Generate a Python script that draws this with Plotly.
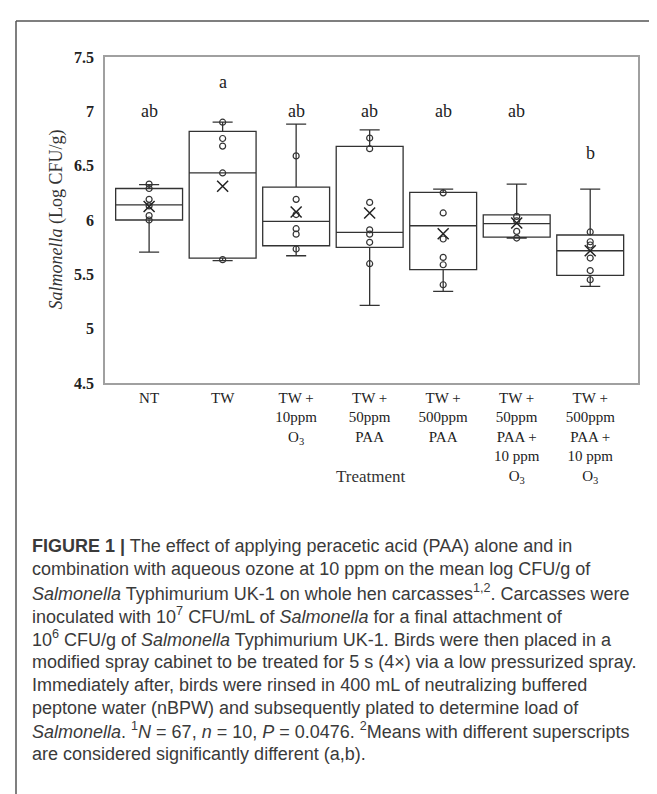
import plotly.graph_objects as go

# ---------------- data ----------------
categories = ["NT", "TW", "TW +<br>10ppm<br>O<sub>3</sub>", "TW +<br>50ppm<br>PAA",
              "TW +<br>500ppm<br>PAA", "TW +<br>50ppm<br>PAA +<br>10 ppm<br>O<sub>3</sub>",
              "TW +<br>500ppm<br>PAA +<br>10 ppm<br>O<sub>3</sub>"]
q1 = [6.00, 5.65, 5.763, 5.748, 5.543, 5.843, 5.49]
median = [6.14, 6.433, 5.987, 5.886, 5.947, 5.966, 5.717]
q3 = [6.29, 6.816, 6.303, 6.677, 6.255, 6.048, 5.862]
whisker_low = [5.705, 5.626, 5.671, 5.215, 5.344, 5.834, 5.39]
whisker_high = [6.325, 6.90, 6.883, 6.83, 6.285, 6.331, 6.285]
means = [6.125, 6.31, 6.073, 6.064, 5.873, 5.972, 5.717]
points = [
    [6.33, 6.29, 6.19, 6.13, 6.04, 6.00],
    [6.90, 6.75, 6.68, 6.433, 5.635],
    [6.59, 6.19, 6.05, 5.92, 5.87, 5.733],
    [6.754, 6.656, 6.162, 5.91, 5.87, 5.795, 5.598],
    [6.25, 6.065, 5.825, 5.656, 5.588, 5.404],
    [6.033, 5.993, 5.895, 5.834],
    [5.89, 5.80, 5.77, 5.65, 5.535, 5.45],
]
letters = ["ab", "a", "ab", "ab", "ab", "ab", "b"]
letter_y = [7.0, 7.27, 7.0, 7.0, 7.0, 7.0, 6.62]

caption_lines = [
    "<b>FIGURE 1 |</b> The effect of applying peracetic acid (PAA) alone and in",
    "combination with aqueous ozone at 10 ppm on the mean log CFU/g of",
    "<i>Salmonella</i> Typhimurium UK-1 on whole hen carcasses<sup>1,2</sup>. Carcasses were",
    "inoculated with 10<sup>7</sup> CFU/mL of <i>Salmonella</i> for a final attachment of",
    "10<sup>6</sup> CFU/g of <i>Salmonella</i> Typhimurium UK-1. Birds were then placed in a",
    "modified spray cabinet to be treated for 5 s (4×) via a low pressurized spray.",
    "Immediately after, birds were rinsed in 400 mL of neutralizing buffered",
    "peptone water (nBPW) and subsequently plated to determine load of",
    "<i>Salmonella</i>. <sup>1</sup><i>N</i> = 67, <i>n</i> = 10, <i>P</i> = 0.0476. <sup>2</sup>Means with different superscripts",
    "are considered significantly different (a,b).",
]

# ---------------- layout constants ----------------
W, H = 657, 794
L, R, T, B = 97, 27, 49, 419
PW, PH = W - L - R, H - T - B


def px_x(px):
    return (px - L) / PW


def px_y(py):
    return (H - B - py) / PH


SERIF = "Liberation Serif, Times New Roman, serif"
SANS = "Liberation Sans, Arial, sans-serif"
DARK = "#333333"

fig = go.Figure()
xs = list(range(len(categories)))

for i in xs:
    fig.add_trace(go.Box(
        x=[i], q1=[q1[i]], median=[median[i]], q3=[q3[i]],
        lowerfence=[whisker_low[i]], upperfence=[whisker_high[i]],
        width=0.91, whiskerwidth=0.3, fillcolor="white",
        line=dict(color=DARK, width=1.3), boxpoints=False, showlegend=False,
        hoverinfo="skip",
    ))
    fig.add_trace(go.Scatter(
        x=[i] * len(points[i]), y=points[i], mode="markers",
        marker=dict(symbol="circle-open", size=6, color=DARK, line=dict(width=1.2, color=DARK)),
        showlegend=False, hoverinfo="skip",
    ))
    fig.add_trace(go.Scatter(
        x=[i], y=[means[i]], mode="markers",
        marker=dict(symbol="x-thin-open", size=11, color="#222", line=dict(width=1.5, color="#222")),
        showlegend=False, hoverinfo="skip",
    ))
    fig.add_annotation(x=i, y=letter_y[i], text=letters[i], showarrow=False,
                       font=dict(family=SERIF, size=18, color="#222"))

fig.update_xaxes(
    range=[-0.6, 6.65], tickmode="array", tickvals=xs, ticktext=categories,
    tickfont=dict(family=SERIF, size=15, color="#222"),
    showline=True, mirror=True, linecolor="#a0a0a0", linewidth=1.5,
    ticks="", showgrid=False, zeroline=False,
)
fig.update_yaxes(
    range=[4.5, 7.5], dtick=0.5, tick0=4.5,
    tickfont=dict(family=SERIF, size=16, color="#222", weight="bold"),
    showline=True, mirror=True, linecolor="#a0a0a0", linewidth=1.5,
    ticks="", showgrid=False, zeroline=False, ticklabelstandoff=6,
)

# axis titles
fig.add_annotation(xref="paper", yref="paper", x=px_x(35), y=0.5,
                   text="<i>Salmonella</i> (Log CFU/g)", textangle=-90, showarrow=False,
                   font=dict(family=SERIF, size=18, color="#333"))
fig.add_annotation(xref="paper", yref="paper", x=px_x(363), y=px_y(480),
                   text="Treatment", showarrow=False,
                   font=dict(family=SERIF, size=17, color="#333"))

# caption
for k, line in enumerate(caption_lines):
    fig.add_annotation(xref="paper", yref="paper", x=px_x(22), y=px_y(538 + 23.1 * k),
                       xanchor="left", yanchor="middle", text=line, showarrow=False,
                       font=dict(family=SANS, size=18, color="#3a3a3a"))

# outer frame (top and left)
fig.add_shape(type="line", xref="paper", yref="paper", x0=px_x(8), x1=px_x(660),
              y0=px_y(13), y1=px_y(13), line=dict(color="#555", width=1.5))
fig.add_shape(type="line", xref="paper", yref="paper", x0=px_x(8), x1=px_x(8),
              y0=px_y(13), y1=px_y(800), line=dict(color="#555", width=1.5))

fig.update_layout(
    width=W, height=H, autosize=False,
    margin=dict(l=L, r=R, t=T, b=B),
    paper_bgcolor="white", plot_bgcolor="white",
)

fig.write_html("out.html")
